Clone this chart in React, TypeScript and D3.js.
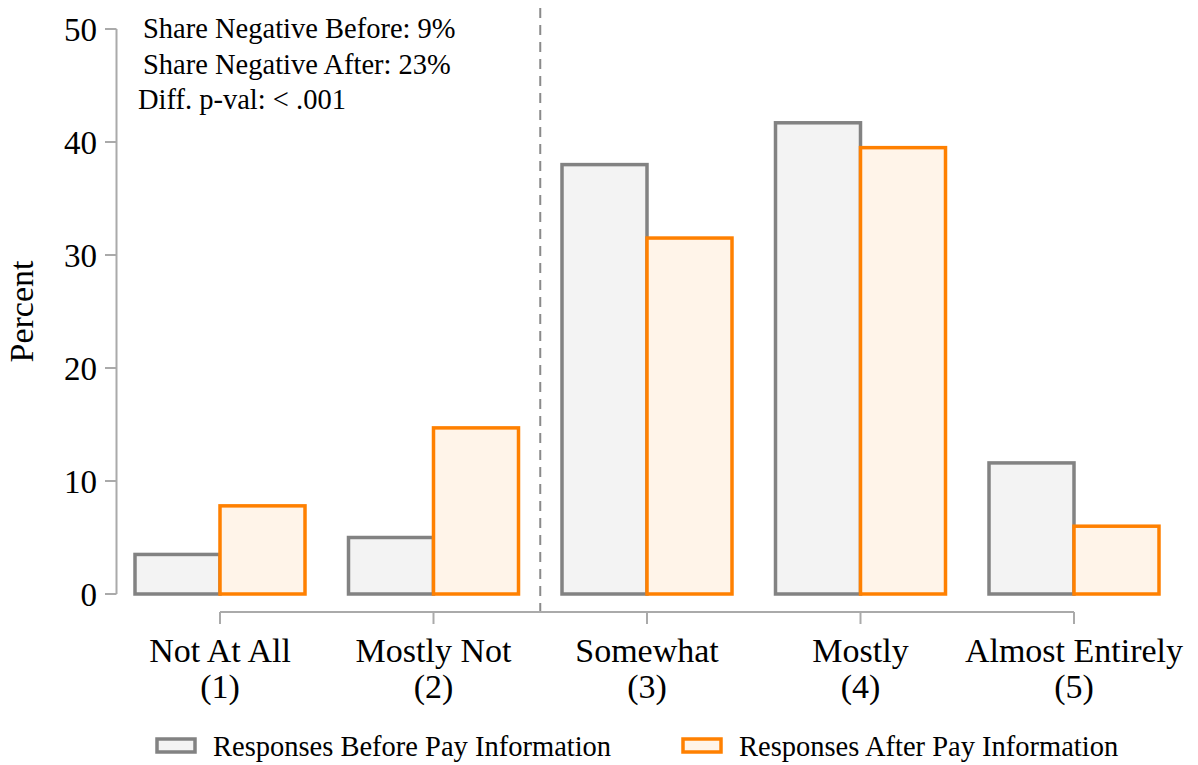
import React from "react";
import * as d3 from "d3";

const categories = ["Not At All", "Mostly Not", "Somewhat", "Mostly", "Almost Entirely"];
const categoryCodes = ["(1)", "(2)", "(3)", "(4)", "(5)"];
const seriesKeys = ["before", "after"];
const seriesLabels = ["Responses Before Pay Information", "Responses After Pay Information"];
const beforeValues = [3.5, 5.0, 38.0, 41.7, 11.6];
const afterValues = [7.8, 14.7, 31.5, 39.5, 6.0];
const yTicks = [0, 10, 20, 30, 40, 50];
const annotations = ["Share Negative Before: 9%", "Share Negative After: 23%", "Diff. p-val: < .001"];

const W = 1198;
const H = 765;
const FONT = "'Liberation Serif', 'Times New Roman', Times, serif";
const strokeCols = { before: "#828282", after: "#ff8000" };
const fillCols = { before: "#f3f3f3", after: "#fff4e9" };

export default function App() {
  const y = d3.scaleLinear().domain([0, 50]).range([594, 29]);
  const x = d3.scalePoint<string>().domain(categories).range([220, 1074]);
  const inner = d3.scaleBand<string>().domain(seriesKeys).range([-85, 85]).paddingInner(0);
  const data = categories.map((c, i) => ({ c, before: beforeValues[i], after: afterValues[i] }));
  const step = x.step();
  const dividerX = (x(categories[1])! + x(categories[2])!) / 2;
  const axisY = 612;
  const yAxisX = 116.5;

  return (
    <svg width={W} height={H} style={{ position: "absolute", left: 0, top: 0, background: "#fff" }} fontFamily={FONT}>
      {/* y axis */}
      <line x1={yAxisX} x2={yAxisX} y1={y(50)} y2={y(0)} stroke="#aaaaaa" strokeWidth={2} />
      {yTicks.map((t) => (
        <g key={t}>
          <line x1={105} x2={yAxisX} y1={y(t)} y2={y(t)} stroke="#aaaaaa" strokeWidth={2} />
          <text x={97} y={y(t)} dy="0.36em" textAnchor="end" fontSize={33} fill="#000">
            {t}
          </text>
        </g>
      ))}
      <text transform={`translate(33, ${y(25)}) rotate(-90)`} textAnchor="middle" fontSize={34} fill="#000">
        Percent
      </text>

      {/* bars */}
      {data.map((d) => (
        <g key={d.c}>
          {seriesKeys.map((k) => {
            const v = (d as any)[k] as number;
            return (
              <rect
                key={k}
                x={x(d.c)! + inner(k)!}
                y={y(v)}
                width={inner.bandwidth()}
                height={y(0) - y(v)}
                fill={(fillCols as any)[k]}
                stroke={(strokeCols as any)[k]}
                strokeWidth={3.5}
              />
            );
          })}
        </g>
      ))}

      {/* divider */}
      <line x1={dividerX} x2={dividerX} y1={8} y2={axisY} stroke="#8a8a8a" strokeWidth={2} strokeDasharray="10,7" />

      {/* x axis */}
      <line x1={x(categories[0])!} x2={x(categories[4])!} y1={axisY} y2={axisY} stroke="#aaaaaa" strokeWidth={2} />
      {categories.map((c, i) => (
        <g key={c}>
          <line x1={x(c)!} x2={x(c)!} y1={axisY} y2={axisY + 12} stroke="#aaaaaa" strokeWidth={2} />
          <text x={x(c)!} y={662} textAnchor="middle" fontSize={34} fill="#000">
            {c}
          </text>
          <text x={x(c)!} y={698} textAnchor="middle" fontSize={34} fill="#000">
            {categoryCodes[i]}
          </text>
        </g>
      ))}

      {/* annotations */}
      <text x={143} y={38} fontSize={28.5} fill="#000">{annotations[0]}</text>
      <text x={143} y={74} fontSize={28.5} fill="#000">{annotations[1]}</text>
      <text x={138} y={109} fontSize={28.5} fill="#000">{annotations[2]}</text>

      {/* legend */}
      {seriesKeys.map((k, i) => {
        const lx = [157, 683][i];
        return (
          <g key={k}>
            <rect x={lx} y={739} width={38} height={13} fill={(fillCols as any)[k]} stroke={(strokeCols as any)[k]} strokeWidth={3.5} />
            <text x={lx + 56} y={756} fontSize={28.5} fill="#000">
              {seriesLabels[i]}
            </text>
          </g>
        );
      })}
    </svg>
  );
}
